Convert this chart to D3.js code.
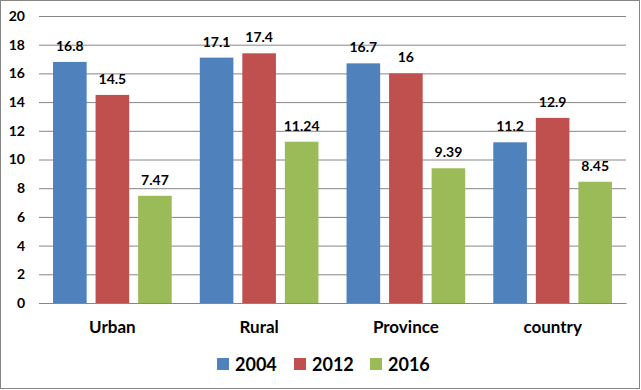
<!DOCTYPE html>
<html><head><meta charset="utf-8">
<script src="https://cdn.jsdelivr.net/npm/d3@7"></script>
<style>body{margin:0;background:#fff}svg{display:block}text{font-family:Lato,"Open Sans",sans-serif;font-weight:bold;fill:#000}</style>
</head><body>
<script>
const categories = ["Urban", "Rural", "Province", "country"];
const seriesNames = ["2004", "2012", "2016"];
const values2004 = [16.8, 17.1, 16.7, 11.2];
const values2012 = [14.5, 17.4, 16, 12.9];
const values2016 = [7.47, 11.24, 9.39, 8.45];
const valueLabels2004 = ["16.8", "17.1", "16.7", "11.2"];
const valueLabels2012 = ["14.5", "17.4", "16", "12.9"];
const valueLabels2016 = ["7.47", "11.24", "9.39", "8.45"];
const yTicks = [0, 2, 4, 6, 8, 10, 12, 14, 16, 18, 20];
const colors = ["#4F81BD", "#C0504D", "#9BBB59"];

(function () {
const W = 641, H = 390;
const svg = d3.select("body").append("svg").attr("width", W).attr("height", H);
svg.append("rect").attr("x", 0.5).attr("y", 0.5).attr("width", W - 2).attr("height", H - 2)
  .attr("fill", "#fff").attr("stroke", "#868686");

const mLeft = 39, mRight = 626, mTop = 16, mBottom = 303;
const x = d3.scaleBand().domain(categories).range([mLeft, mRight]).paddingInner(0).paddingOuter(0);
const xs = d3.scaleBand().domain(seriesNames).range([0, x.bandwidth()]).paddingInner(0.21).paddingOuter(0.33);
const y = d3.scaleLinear().domain([0, 20]).range([mBottom, mTop]);

const yAxis = d3.axisLeft(y).tickValues(yTicks).tickSize(-(mRight - mLeft)).tickPadding(14);
const gy = svg.append("g").attr("transform", `translate(${mLeft},0)`).call(yAxis);
gy.select(".domain").remove();
gy.selectAll(".tick line").attr("stroke", "#868686");
gy.selectAll(".tick text").style("font-size", "14px").attr("fill", "#000");

const series = [values2004, values2012, values2016];
const labels = [valueLabels2004, valueLabels2012, valueLabels2016];
series.forEach((vals, si) => {
  const g = svg.append("g");
  g.selectAll("rect").data(vals).join("rect")
    .attr("x", (d, i) => x(categories[i]) + xs(seriesNames[si]))
    .attr("y", d => y(d))
    .attr("width", xs.bandwidth())
    .attr("height", d => y(0) - y(d))
    .attr("fill", colors[si]);
  g.selectAll("text").data(vals).join("text")
    .attr("x", (d, i) => x(categories[i]) + xs(seriesNames[si]) + xs.bandwidth() / 2)
    .attr("y", d => y(d) - 11)
    .attr("text-anchor", "middle")
    .style("font-size", "14px")
    .text((d, i) => labels[si][i]);
});

const xAxis = d3.axisBottom(x).tickSize(0).tickPadding(18);
const gx = svg.append("g").attr("transform", `translate(0,${mBottom})`).call(xAxis);
gx.select(".domain").attr("stroke", "#868686");
gx.selectAll(".tick text").style("font-size", "17px").attr("fill", "#000");

const legendX = [217, 294, 370];
const lg = svg.append("g");
seriesNames.forEach((s, i) => {
  lg.append("rect").attr("x", legendX[i]).attr("y", 358).attr("width", 12).attr("height", 12).attr("fill", colors[i]);
  lg.append("text").attr("x", legendX[i] + 18).attr("y", 371).style("font-size", "18px").text(s);
});
})();
</script>
</body></html>
